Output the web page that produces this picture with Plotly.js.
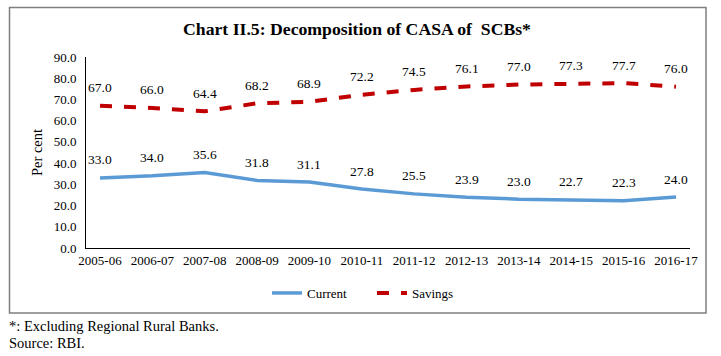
<!DOCTYPE html>
<html>
<head>
<meta charset="utf-8">
<script src="https://cdn.plot.ly/plotly-3.0.1.min.js"></script>
<style>html,body{margin:0;padding:0;background:#fff;}#chart{width:721px;height:356px;}</style>
</head>
<body>
<div id="chart"></div>
<script>
const years = ["2005-06","2006-07","2007-08","2008-09","2009-10","2010-11","2011-12","2012-13","2013-14","2014-15","2015-16","2016-17"];
const current = [33.0,34.0,35.6,31.8,31.1,27.8,25.5,23.9,23.0,22.7,22.3,24.0];
const savings = [67.0,66.0,64.4,68.2,68.9,72.2,74.5,76.1,77.0,77.3,77.7,76.0];
const yTicks = [0,10,20,30,40,50,60,70,80,90];

const W = 721, H = 356;
const L = 86, R = 690, T = 57, B = 248;
const pw = R - L, ph = B - T;
const px = x => (x - L) / pw;
const py = y => (B - y) / ph;
const serif = "Liberation Serif";

const traces = [
  {x: years, y: current, name: "Current", type: "scatter", mode: "lines", legend: "legend",
   line: {color: "#5B9BD5", width: 3.5}},
  {x: years, y: savings, name: "Savings", type: "scatter", mode: "lines", legend: "legend2",
   line: {color: "#C00000", width: 4, dash: "dash"}}
];

const annotations = [];
years.forEach((yr, i) => {
  annotations.push({x: yr, y: current[i], text: current[i].toFixed(1), showarrow: false,
    yshift: 18, font: {family: serif, size: 13.5, color: "#000"}});
  annotations.push({x: yr, y: savings[i], text: savings[i].toFixed(1), showarrow: false,
    yshift: 18, font: {family: serif, size: 13.5, color: "#000"}});
});
annotations.push({xref: "paper", yref: "paper", x: px(7), y: py(326), xanchor: "left", yanchor: "middle",
  text: "*: Excluding Regional Rural Banks.", showarrow: false, font: {family: serif, size: 14.5, color: "#000"}});
annotations.push({xref: "paper", yref: "paper", x: px(7), y: py(343), xanchor: "left", yanchor: "middle",
  text: "Source: RBI.", showarrow: false, font: {family: serif, size: 14.5, color: "#000"}});

const legendBase = {orientation: "h", yanchor: "middle", xanchor: "left", xref: "paper", yref: "paper",
  font: {family: serif, size: 13, color: "#000"}, bgcolor: "rgba(0,0,0,0)"};

const layout = {
  width: W, height: H,
  margin: {l: L, r: W - R, t: T, b: H - B, pad: 0},
  paper_bgcolor: "#fff", plot_bgcolor: "#fff",
  showlegend: true,
  title: {text: "<b>Chart II.5: Decomposition of CASA of  SCBs*</b>",
    font: {family: serif, size: 17.7, color: "#000"},
    x: 357 / W, xanchor: "center", xref: "container",
    y: 1 - 29 / H, yanchor: "middle", yref: "container"},
  xaxis: {type: "category", showline: true, linecolor: "#000", linewidth: 1,
    showgrid: false, ticks: "", zeroline: false, fixedrange: true,
    tickfont: {family: serif, size: 13, color: "#000"}},
  yaxis: {range: [0, 90], tickvals: yTicks, tickformat: ".1f", showline: true,
    linecolor: "#000", linewidth: 1, showgrid: false, ticks: "", zeroline: false,
    ticklabelstandoff: 6,
    tickfont: {family: serif, size: 13, color: "#000"},
    title: {text: "Per cent", font: {family: serif, size: 14.5, color: "#000"}, standoff: 7}},
  legend: Object.assign({}, legendBase, {x: px(267), y: py(293)}),
  legend2: Object.assign({}, legendBase, {x: px(372), y: py(293)}),
  annotations: annotations,
  shapes: [{type: "rect", xref: "paper", yref: "paper", x0: px(9.5), x1: px(706), y0: py(313), y1: py(7.5),
    line: {color: "#7f7f7f", width: 1.5}, fillcolor: "rgba(0,0,0,0)", layer: "below"}]
};

Plotly.newPlot("chart", traces, layout, {displayModeBar: false, staticPlot: true});
</script>
</body>
</html>
